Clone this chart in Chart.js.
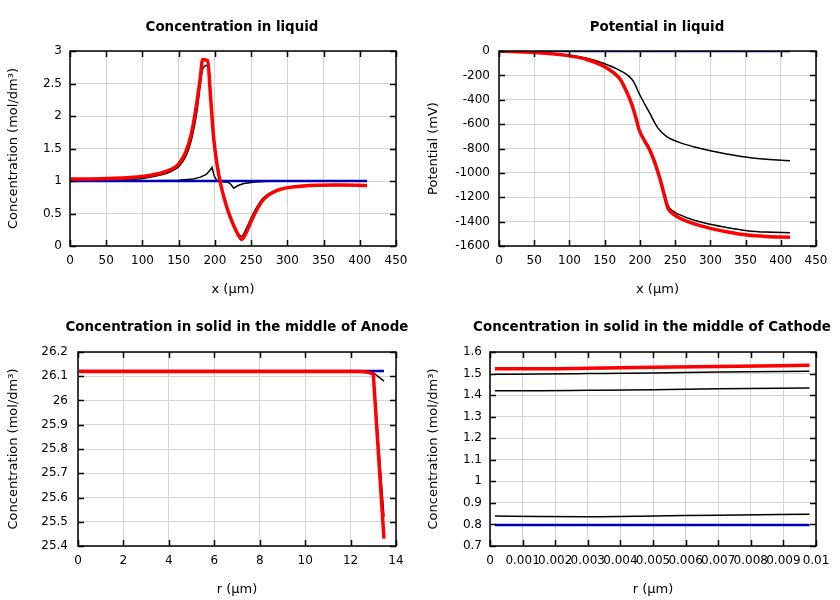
<!DOCTYPE html>
<html>
<head>
<meta charset="utf-8">
<script src="https://cdn.jsdelivr.net/npm/chart.js@4.4.1/dist/chart.umd.min.js"></script>
<style>
  body { margin: 0; background: #fff; overflow: hidden; }
  #wrap { position: relative; width: 840px; height: 600px; }
  .box { position: absolute; width: 420px; height: 300px; }
  .ttl { position: absolute; width: 400px; text-align: center; font: bold 13.4px "DejaVu Sans", sans-serif; color: #000; white-space: nowrap; line-height: 16px; }
</style>
</head>
<body>
<div id="wrap">
  <div class="box" style="left:0;top:0"><canvas id="c1" width="420" height="300"></canvas></div>
  <div class="box" style="left:420px;top:0"><canvas id="c2" width="420" height="300"></canvas></div>
  <div class="box" style="left:0;top:300px"><canvas id="c3" width="420" height="300"></canvas></div>
  <div class="box" style="left:420px;top:300px"><canvas id="c4" width="420" height="300"></canvas></div>
  <div class="ttl" style="left:32px;top:19px">Concentration in liquid</div>
  <div class="ttl" style="left:457px;top:19px">Potential in liquid</div>
  <div class="ttl" style="left:37px;top:319px">Concentration in solid in the middle of Anode</div>
  <div class="ttl" style="left:452px;top:319px">Concentration in solid in the middle of Cathode</div>
</div>
<script>
// --- Concentration in liquid ---
const liqX = [0, 50, 100, 125, 140, 150, 160, 168, 175, 180, 183, 190, 194, 198, 203, 208, 215, 222, 230, 237, 243, 250, 258, 266, 275, 290, 310, 340, 370, 400, 410];
const concRed = [1.03, 1.04, 1.07, 1.12, 1.18, 1.26, 1.45, 1.75, 2.2, 2.6, 2.87, 2.85, 2.3, 1.7, 1.25, 0.95, 0.65, 0.42, 0.22, 0.1, 0.2, 0.38, 0.56, 0.7, 0.79, 0.87, 0.91, 0.935, 0.94, 0.935, 0.93];
const concBlackA = [1.0, 1.01, 1.04, 1.09, 1.15, 1.22, 1.38, 1.65, 2.05, 2.5, 2.72, 2.78, 2.35, 1.7, 1.25, 0.95, 0.65, 0.42, 0.22, 0.15, 0.26, 0.43, 0.6, 0.73, 0.81, 0.88, 0.92, 0.94, 0.945, 0.94, 0.935];
const liqXB = [0, 100, 150, 170, 180, 188, 193, 196, 199, 203, 210, 218, 222, 226, 232, 240, 255, 280, 410];
const concBlackB = [1.0, 1.0, 1.01, 1.03, 1.06, 1.1, 1.16, 1.21, 1.08, 1.0, 0.99, 0.98, 0.95, 0.89, 0.93, 0.96, 0.985, 1.0, 1.0];
const liqXBlue = [0, 410];
const concBlue = [1.0, 1.0];

// --- Potential in liquid ---
const potX = [0, 50, 98, 125, 148, 162, 172, 180, 188, 194, 199, 206, 214, 222, 229, 235, 240, 248, 257, 275, 300, 325, 352, 380, 413];
const potRed = [0, -12, -38, -70, -123, -175, -232, -320, -429, -540, -648, -730, -812, -930, -1058, -1190, -1290, -1340, -1372, -1415, -1455, -1485, -1510, -1522, -1528];
const potBlackLow = [0, -12, -38, -70, -120, -170, -225, -310, -420, -530, -640, -725, -805, -920, -1045, -1175, -1270, -1318, -1345, -1385, -1422, -1450, -1474, -1486, -1491];
const potXUp = [0, 50, 98, 125, 148, 172, 185, 191, 200, 213, 226, 238, 255, 276, 300, 323, 360, 413];
const potBlackUp = [0, -10, -33, -60, -101, -161, -210, -252, -361, -500, -635, -703, -748, -785, -818, -845, -878, -900];
const potXBlue = [0, 413];
const potBlue = [0, 0];

// --- Anode solid ---
const anX = [0.05, 12.4, 12.7, 13.0, 13.47];
const anRed = [26.12, 26.12, 26.118, 26.11, 25.43];
const anBlackA = [26.12, 26.12, 26.12, 26.115, 26.08];
const anBlackB = [26.12, 26.12, 26.118, 26.11, 25.52];
const anBlue = [26.122, 26.122, 26.122, 26.122, 26.122];

// --- Cathode solid ---
const caX = [0.00015, 0.0015, 0.003, 0.005, 0.007, 0.0098];
const caRed = [1.522, 1.522, 1.525, 1.529, 1.533, 1.538];
const caBlackA = [1.497, 1.498, 1.5, 1.503, 1.507, 1.511];
const caBlackB = [1.42, 1.42, 1.422, 1.425, 1.429, 1.433];
const caBlackC = [0.839, 0.837, 0.836, 0.839, 0.843, 0.847];
const caBlue = [0.797, 0.797, 0.797, 0.797, 0.797, 0.797];

const FONT = { family: '"DejaVu Sans", sans-serif', size: 12 };
const TFONT = { family: '"DejaVu Sans", sans-serif', size: 13 };

function pts(xs, ys) {
    return xs.map((x, i) => ({ x: x, y: ys[i] }));
}

function fmt(v) {
    return String(parseFloat(Number(v).toPrecision(10)));
}

// gnuplot style frame with inward ticks on all sides
const frame = {
    id: 'frame',
    afterDraw(chart) {
        const { ctx, chartArea: a, scales } = chart;
        ctx.save();
        ctx.strokeStyle = '#000';
        ctx.lineWidth = 1.5;
        ctx.beginPath();
        scales.x.ticks.forEach((t, i) => {
            const px = Math.round(scales.x.getPixelForTick(i)) + 0.5;
            ctx.moveTo(px, a.bottom); ctx.lineTo(px, a.bottom - 6);
            ctx.moveTo(px, a.top); ctx.lineTo(px, a.top + 6);
        });
        scales.y.ticks.forEach((t, i) => {
            const py = Math.round(scales.y.getPixelForTick(i)) + 0.5;
            ctx.moveTo(a.left, py); ctx.lineTo(a.left + 6, py);
            ctx.moveTo(a.right, py); ctx.lineTo(a.right - 6, py);
        });
        ctx.stroke();
        ctx.strokeRect(a.left, a.top, a.width, a.height);
        ctx.restore();
    }
};

function line(data, color, width, smooth) {
    return {
        data: data,
        borderColor: color,
        borderWidth: width,
        pointRadius: 0,
        fill: false,
        cubicInterpolationMode: smooth ? 'monotone' : 'default',
        tension: 0
    };
}

function makeChart(id, datasets, cfg) {
    return new Chart(document.getElementById(id), {
        type: 'line',
        data: { datasets: datasets },
        plugins: [frame],
        options: {
            responsive: false,
            animation: false,
            layout: { padding: { left: 0, right: 24, top: cfg.top, bottom: 0 } },
            plugins: { legend: { display: false }, tooltip: { enabled: false } },
            scales: {
                x: {
                    type: 'linear',
                    min: cfg.xMin, max: cfg.xMax,
                    afterFit: s => { s.height = 54; },
                    border: { display: false },
                    grid: { color: '#d4d4d4', drawTicks: false },
                    ticks: {
                        stepSize: cfg.xStep, font: FONT, color: '#000', padding: 8,
                        autoSkip: false, maxRotation: 0, callback: fmt
                    },
                    title: { display: true, text: cfg.xTitle, font: TFONT, color: '#000', padding: { top: 4, bottom: 3 } }
                },
                y: {
                    type: 'linear',
                    min: cfg.yMin, max: cfg.yMax,
                    afterFit: s => { s.width = cfg.left; },
                    border: { display: false },
                    grid: { color: '#d4d4d4', drawTicks: false },
                    ticks: { stepSize: cfg.yStep, font: FONT, color: '#000', padding: cfg.yPad, callback: fmt },
                    title: { display: true, text: cfg.yTitle, font: TFONT, color: '#000', padding: { top: 6, bottom: 4 } }
                }
            }
        }
    });
}

makeChart('c1', [
    line(pts(liqX, concRed), '#ff0000', 3.5, true),
    line(pts(liqXBlue, concBlue), '#0000b4', 2.5, false),
    line(pts(liqX, concBlackA), '#000000', 1.5, true),
    line(pts(liqXB, concBlackB), '#000000', 1.5, false)
], { top: 51, left: 70, xMin: 0, xMax: 450, xStep: 50, yMin: 0, yMax: 3, yStep: 0.5, yPad: 8,
     xTitle: 'x (µm)', yTitle: 'Concentration (mol/dm³)' });

makeChart('c2', [
    line(pts(potX, potRed), '#ff0000', 3.5, true),
    line(pts(potXBlue, potBlue), '#0000b4', 2.5, false),
    line(pts(potX, potBlackLow), '#000000', 1.5, true),
    line(pts(potXUp, potBlackUp), '#000000', 1.5, true)
], { top: 51, left: 79, xMin: 0, xMax: 450, xStep: 50, yMin: -1600, yMax: 0, yStep: 200, yPad: 9,
     xTitle: 'x (µm)', yTitle: 'Potential (mV)' });

makeChart('c3', [
    line(pts(anX, anRed), '#ff0000', 3.5, false),
    line(pts(anX, anBlue), '#0000b4', 2.5, false),
    line(pts(anX, anBlackA), '#000000', 1.5, false),
    line(pts(anX, anBlackB), '#000000', 1.5, false)
], { top: 52, left: 78, xMin: 0, xMax: 14, xStep: 2, yMin: 25.4, yMax: 26.2, yStep: 0.1, yPad: 10,
     xTitle: 'r (µm)', yTitle: 'Concentration (mol/dm³)' });

makeChart('c4', [
    line(pts(caX, caRed), '#ff0000', 3.5, true),
    line(pts(caX, caBlue), '#0000b4', 2.5, false),
    line(pts(caX, caBlackA), '#000000', 1.5, true),
    line(pts(caX, caBlackB), '#000000', 1.5, true),
    line(pts(caX, caBlackC), '#000000', 1.5, true)
], { top: 52, left: 70, xMin: 0, xMax: 0.01, xStep: 0.001, yMin: 0.7, yMax: 1.6, yStep: 0.1, yPad: 8,
     xTitle: 'r (µm)', yTitle: 'Concentration (mol/dm³)' });
</script>
</body>
</html>
